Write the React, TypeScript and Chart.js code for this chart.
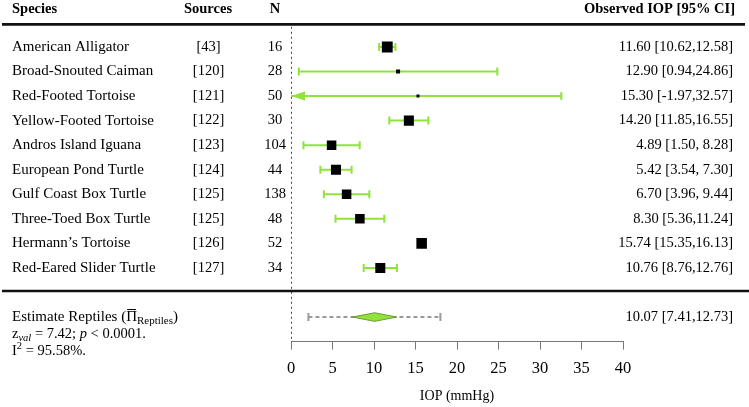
import React, { useEffect, useRef } from "react";
import { Chart, registerables } from "chart.js";

Chart.register(...registerables);

// ---------- data ----------
const species = [
  "American Alligator",
  "Broad-Snouted Caiman",
  "Red-Footed Tortoise",
  "Yellow-Footed Tortoise",
  "Andros Island Iguana",
  "European Pond Turtle",
  "Gulf Coast Box Turtle",
  "Three-Toed Box Turtle",
  "Hermann\u2019s Tortoise",
  "Red-Eared Slider Turtle",
];
const sources = ["[43]", "[120]", "[121]", "[122]", "[123]", "[124]", "[125]", "[125]", "[126]", "[127]"];
const sampleSizes = [16, 28, 50, 30, 104, 44, 138, 48, 52, 34];
const iopMean = [11.6, 12.9, 15.3, 14.2, 4.89, 5.42, 6.7, 8.3, 15.74, 10.76];
const ciLower = [10.62, 0.94, -1.97, 11.85, 1.5, 3.54, 3.96, 5.36, 15.35, 8.76];
const ciUpper = [12.58, 24.86, 32.57, 16.55, 8.28, 7.3, 9.44, 11.24, 16.13, 12.76];
const weights = [14.0, 1.9, 1.1, 12.0, 10.8, 12.0, 10.8, 10.8, 13.2, 12.0];

const pooledEstimate = 10.07;
const pooledLower = 7.41;
const pooledUpper = 12.73;
const predictionLower = 2.1;
const predictionUpper = 18.0;
const zValue = "7.42";
const pValue = "0.0001";
const iSquared = "95.58";

const xTickValues = [0, 5, 10, 15, 20, 25, 30, 35, 40];

const headers = { species: "Species", sources: "Sources", n: "N", observed: "Observed IOP [95% CI]" };
const axisTitle = "IOP (mmHg)";

// ---------- styles ----------
const SERIF = '"Liberation Serif", "Times New Roman", Times, serif';
const GREEN = "#8fe33b";
const SUMMARY_ROW = species.length + 1;

const fmtCI = (m: number, lo: number, hi: number) =>
  `${m.toFixed(2)} [${lo.toFixed(2)},${hi < 10 ? " " : ""}${hi.toFixed(2)}]`;

type Run = { t: string; size?: number; italic?: boolean; dy?: number; bar?: boolean };
function drawRuns(ctx: CanvasRenderingContext2D, x: number, y: number, runs: Run[], base: number) {
  let cx = x;
  for (const r of runs) {
    const size = r.size ?? base;
    ctx.font = `${r.italic ? "italic " : ""}${size}px ${SERIF}`;
    const yy = y + (r.dy ?? 0);
    ctx.fillText(r.t, cx, yy);
    const w = ctx.measureText(r.t).width;
    if (r.bar) {
      ctx.fillRect(cx + 1, yy - size * 0.8, w - 2, 1);
    }
    cx += w;
  }
}

const forestPlugin = {
  id: "forestExtras",
  beforeDatasetsDraw(chart: any) {
    const { ctx, chartArea, scales } = chart;
    const x = scales.x;
    const y = scales.y;
    const x0 = Math.round(x.getPixelForValue(0)) + 0.5;
    ctx.save();
    ctx.strokeStyle = "#444";
    ctx.lineWidth = 1;
    ctx.setLineDash([2, 3]);
    ctx.beginPath();
    ctx.moveTo(x0, y.getPixelForValue(-0.82));
    ctx.lineTo(x0, chartArea.bottom);
    ctx.stroke();
    ctx.restore();
  },
  afterDatasetsDraw(chart: any) {
    const { ctx, scales } = chart;
    const x = scales.x;
    const y = scales.y;
    const xMin = x.min;
    ctx.save();
    // arrows for CIs running past the axis minimum
    ciLower.forEach((lo, i) => {
      if (lo < xMin) {
        const tip = x.getPixelForValue(xMin);
        const yc = y.getPixelForValue(i);
        ctx.fillStyle = GREEN;
        ctx.beginPath();
        ctx.moveTo(tip, yc);
        ctx.lineTo(tip + 14, yc - 4.5);
        ctx.lineTo(tip + 14, yc + 4.5);
        ctx.closePath();
        ctx.fill();
      }
    });
    // pooled diamond
    const yc = y.getPixelForValue(SUMMARY_ROW);
    ctx.beginPath();
    ctx.moveTo(x.getPixelForValue(pooledLower), yc);
    ctx.lineTo(x.getPixelForValue(pooledEstimate), yc - 4.3);
    ctx.lineTo(x.getPixelForValue(pooledUpper), yc);
    ctx.lineTo(x.getPixelForValue(pooledEstimate), yc + 4.3);
    ctx.closePath();
    ctx.fillStyle = GREEN;
    ctx.fill();
    ctx.strokeStyle = "#6a9a3a";
    ctx.lineWidth = 1;
    ctx.stroke();
    ctx.restore();
  },
  afterDraw(chart: any) {
    const { ctx, scales, width } = chart;
    const y = scales.y;
    ctx.save();
    ctx.fillStyle = "#000";

    // header
    const yh = y.getPixelForValue(-1.52);
    ctx.font = `bold 14.5px ${SERIF}`;
    ctx.textBaseline = "middle";
    ctx.textAlign = "left";
    ctx.fillText(headers.species, 12, yh);
    ctx.textAlign = "center";
    ctx.fillText(headers.sources, 208, yh);
    ctx.fillText(headers.n, 275, yh);
    ctx.textAlign = "right";
    ctx.fillText(headers.observed, 735, yh);

    // rules
    ctx.strokeStyle = "#111";
    ctx.lineWidth = 2.6;
    ctx.beginPath();
    const yTop = y.getPixelForValue(-0.92);
    ctx.moveTo(2, yTop);
    ctx.lineTo(745, yTop);
    const yBot = y.getPixelForValue(9.94);
    ctx.moveTo(2, yBot);
    ctx.lineTo(width, yBot);
    ctx.stroke();

    // rows
    species.forEach((name, i) => {
      const yr = y.getPixelForValue(i);
      ctx.font = `15px ${SERIF}`;
      ctx.textAlign = "left";
      ctx.fillText(name, 12, yr);
      ctx.font = `14.5px ${SERIF}`;
      ctx.textAlign = "center";
      ctx.fillText(sources[i], 208.5, yr);
      ctx.fillText(String(sampleSizes[i]), 275, yr);
      ctx.textAlign = "right";
      ctx.fillText(fmtCI(iopMean[i], ciLower[i], ciUpper[i]), 733, yr);
    });

    // summary
    const ys = y.getPixelForValue(SUMMARY_ROW);
    ctx.font = `14.5px ${SERIF}`;
    ctx.textAlign = "right";
    ctx.fillText(fmtCI(pooledEstimate, pooledLower, pooledUpper), 733, ys);

    ctx.textAlign = "left";
    ctx.textBaseline = "alphabetic";
    drawRuns(ctx, 12, ys + 4, [
      { t: "Estimate Reptiles (" },
      { t: "\u03A0", bar: true },
      { t: "Reptiles", size: 11, dy: 3 },
      { t: ")" },
    ], 15);
    drawRuns(ctx, 12, ys + 21, [
      { t: "z" },
      { t: "val", size: 10.5, italic: true, dy: 3 },
      { t: ` = ${zValue}; ` },
      { t: "p", italic: true },
      { t: ` < ${pValue}.` },
    ], 14.5);
    drawRuns(ctx, 12, ys + 38, [
      { t: "I" },
      { t: "2", size: 10.5, dy: -6 },
      { t: ` = ${iSquared}%.` },
    ], 14.5);
    ctx.restore();
  },
};

export default function App() {
  const canvasRef = useRef<HTMLCanvasElement | null>(null);

  useEffect(() => {
    const canvas = canvasRef.current;
    if (!canvas) return;

    const ciDatasets = species.map((_, i) => ({
      type: "scatter" as const,
      data: [
        { x: ciLower[i], y: i },
        { x: ciUpper[i], y: i },
      ],
      showLine: true,
      borderColor: GREEN,
      borderWidth: 2,
      pointStyle: "line" as const,
      pointRotation: 90,
      pointRadius: (c: any) => (c.raw && c.raw.x < xTickValues[0] ? 0 : 4),
      pointBorderColor: GREEN,
      pointBorderWidth: 2,
      order: 2,
    }));

    const chart = new Chart(canvas, {
      type: "scatter",
      data: {
        datasets: [
          {
            data: iopMean.map((m, i) => ({ x: m, y: i })),
            pointStyle: "rect",
            pointRadius: weights.map((w) => Math.sqrt(w) * 2.05),
            pointBackgroundColor: "#000",
            pointBorderColor: "#000",
            pointBorderWidth: 0,
            order: 0,
          },
          ...ciDatasets,
          {
            data: [
              { x: predictionLower, y: SUMMARY_ROW },
              { x: predictionUpper, y: SUMMARY_ROW },
            ],
            showLine: true,
            borderColor: "#9a9a9a",
            borderWidth: 2,
            borderDash: [4, 3],
            pointStyle: "line",
            pointRotation: 90,
            pointRadius: 4,
            pointBorderColor: "#9a9a9a",
            pointBorderWidth: 2,
            order: 3,
          },
        ] as any,
      },
      options: {
        animation: false,
        responsive: false,
        devicePixelRatio: 1,
        events: [],
        layout: { padding: { left: 291, right: 126, top: 22.4, bottom: 0 } },
        plugins: { legend: { display: false }, tooltip: { enabled: false } },
        scales: {
          x: {
            type: "linear",
            min: xTickValues[0],
            max: xTickValues[xTickValues.length - 1],
            afterBuildTicks: (axis: any) => {
              axis.ticks = xTickValues.map((v) => ({ value: v }));
            },
            ticks: { color: "#000", font: { family: SERIF, size: 16.5 }, padding: 9.4 },
            grid: { drawOnChartArea: false, drawTicks: true, tickLength: 8, color: "#777", lineWidth: 1 },
            border: { display: true, color: "#777", width: 1 },
            title: {
              display: true,
              text: axisTitle,
              color: "#000",
              font: { family: SERIF, size: 14 },
              padding: { top: 0, bottom: 2 },
            },
          },
          y: {
            type: "linear",
            display: false,
            min: -1,
            max: 12,
            reverse: true,
          },
        },
      } as any,
      plugins: [forestPlugin],
    });

    return () => chart.destroy();
  }, []);

  return (
    <div style={{ position: "absolute", left: 0, top: 0, width: 749, height: 407, background: "#fff" }}>
      <canvas ref={canvasRef} width={749} height={407} style={{ display: "block" }} />
    </div>
  );
}
